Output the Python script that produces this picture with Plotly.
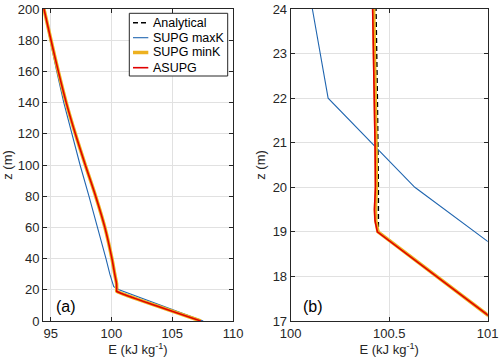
import plotly.graph_objects as go

# ---------------- data ----------------
z_analytical = [0, 17, 19, 20, 22, 24, 26, 30, 40, 60, 80, 100, 120, 140, 160, 180, 200]
E_analytical = [107.35, 101.04, 100.445, 100.445, 100.44, 100.433, 100.38, 100.275, 100.04, 99.46,
                98.7, 97.85, 97.03, 96.28, 95.63, 95.03, 94.45]

z_maxK = [0, 18, 20, 22, 24, 30, 40, 60, 80, 100, 120, 140, 160, 180, 200]
E_maxK = [107.55, 101.24, 100.63, 100.19, 100.11, 99.87, 99.55, 98.87, 98.15, 97.42,
          96.72, 96.08, 95.5, 94.95, 94.42]

z_minK = [0, 17, 19, 19.25, 19.5, 20, 21, 22, 24, 26, 30, 40, 60, 80, 100, 120, 140, 160, 180, 200]
E_minK = [107.35, 101.04, 100.443, 100.432, 100.43, 100.435, 100.433, 100.43, 100.421, 100.375,
          100.273, 100.04, 99.46, 98.7, 97.85, 97.03, 96.28, 95.63, 95.03, 94.45]

z_asupg = [0, 17, 19, 19.25, 19.5, 20, 21, 22, 24, 26, 30, 40, 60, 80, 100, 120, 140, 160, 180, 200]
E_asupg = [107.35, 101.04, 100.44, 100.428, 100.425, 100.43, 100.428, 100.425, 100.416, 100.37,
           100.27, 100.04, 99.46, 98.7, 97.85, 97.03, 96.28, 95.63, 95.03, 94.45]

xticks_a = [95, 100, 105, 110]
yticks_a = list(range(0, 201, 20))
xticks_b = [100, 100.5, 101]
xticktext_b = ["100", "100.5", "101"]
yticks_b = list(range(17, 25))

# ---------------- styles ----------------
FONT = "Liberation Sans, Arial, sans-serif"
AX = "#262626"
GRID = "#e1e1e1"

series = [
    ("Analytical", z_analytical, E_analytical, dict(color="black", width=1.5, dash="5px,3px"), True),
    ("SUPG maxK", z_maxK, E_maxK, dict(color="#2166B0", width=1.1), False),
    ("SUPG minK", z_minK, E_minK, dict(color="#EDB120", width=3.5), True),
    ("ASUPG", z_asupg, E_asupg, dict(color="#E00000", width=1.6), True),
]

fig = go.Figure()
for panel, (xa, ya) in enumerate([("x", "y"), ("x2", "y2")]):
    for name, z, E, line, smooth in series:
        ln = dict(line)
        if smooth and panel == 0:
            ln.update(shape="spline", smoothing=0.8)
        fig.add_trace(go.Scatter(
            x=E, y=z, mode="lines", name=name, line=ln,
            xaxis=xa, yaxis=ya, showlegend=False, hoverinfo="skip",
        ))

axis_common = dict(
    showline=True, linecolor=AX, linewidth=1, mirror="ticks",
    ticks="inside", ticklen=4, tickcolor=AX, tickwidth=1,
    showgrid=True, gridcolor=GRID, gridwidth=1, zeroline=False,
    tickfont=dict(family=FONT, size=13, color=AX), automargin=False,
)
title_font = dict(family=FONT, size=13, color=AX)

ydom = [42 / 363, 354 / 363]
fig.update_layout(
    width=500, height=363,
    margin=dict(l=0, r=0, t=0, b=0),
    paper_bgcolor="white", plot_bgcolor="white",
    font=dict(family=FONT, size=13, color=AX),
    xaxis=dict(domain=[43 / 500, 233 / 500], range=[94.37, 110], tickvals=xticks_a,
               anchor="y",
               title=dict(text="E (kJ kg<sup>-1</sup>)", standoff=4, font=title_font),
               **axis_common),
    yaxis=dict(domain=ydom, range=[0, 200], tickvals=yticks_a, anchor="x",
               title=dict(text="z (m)", standoff=4, font=title_font),
               **axis_common),
    xaxis2=dict(domain=[290.7 / 500, 487.7 / 500], range=[100, 101], tickvals=xticks_b,
                ticktext=xticktext_b, anchor="y2",
                title=dict(text="E (kJ kg<sup>-1</sup>)", standoff=4, font=title_font),
                **axis_common),
    yaxis2=dict(domain=ydom, range=[17, 24], tickvals=yticks_b, anchor="x2",
                title=dict(text="z (m)", standoff=4, font=title_font),
                **axis_common),
    showlegend=False,
)

# ---- legend box (MATLAB style), built from the series definitions ----
LEG_X0, LEG_X1, LEG_Y0, LEG_Y1 = 129.3 / 500, 227.7 / 500, 1 - 76 / 363, 1 - 13.3 / 363
fig.add_shape(type="rect", xref="paper", yref="paper", x0=LEG_X0, x1=LEG_X1, y0=LEG_Y0, y1=LEG_Y1,
              line=dict(color=AX, width=1), fillcolor="white", layer="above")
row_px = [22.7, 37.7, 52.5, 67.7]
for (name, _, _, line, _), ypx in zip(series, row_px):
    yy = 1 - ypx / 363
    fig.add_shape(type="line", xref="paper", yref="paper", x0=133 / 500, x1=148.3 / 500,
                  y0=yy, y1=yy, line=line, layer="above")
    fig.add_annotation(text=name, xref="paper", yref="paper", x=151.2 / 500, y=yy,
                       xanchor="left", yanchor="middle", showarrow=False,
                       font=dict(family=FONT, size=12.5, color="black"))

for label, xref, yref, x0 in [("(a)", "x domain", "y domain", 0.058), ("(b)", "x2 domain", "y2 domain", 0.051)]:
    fig.add_annotation(text=label, xref=xref, yref=yref, x=x0, y=0.045,
                       xanchor="left", yanchor="middle", showarrow=False,
                       font=dict(family=FONT, size=16, color="black"))

fig.write_html("out.html", config={"displayModeBar": False},
               post_script="document.body.style.margin='0';")
